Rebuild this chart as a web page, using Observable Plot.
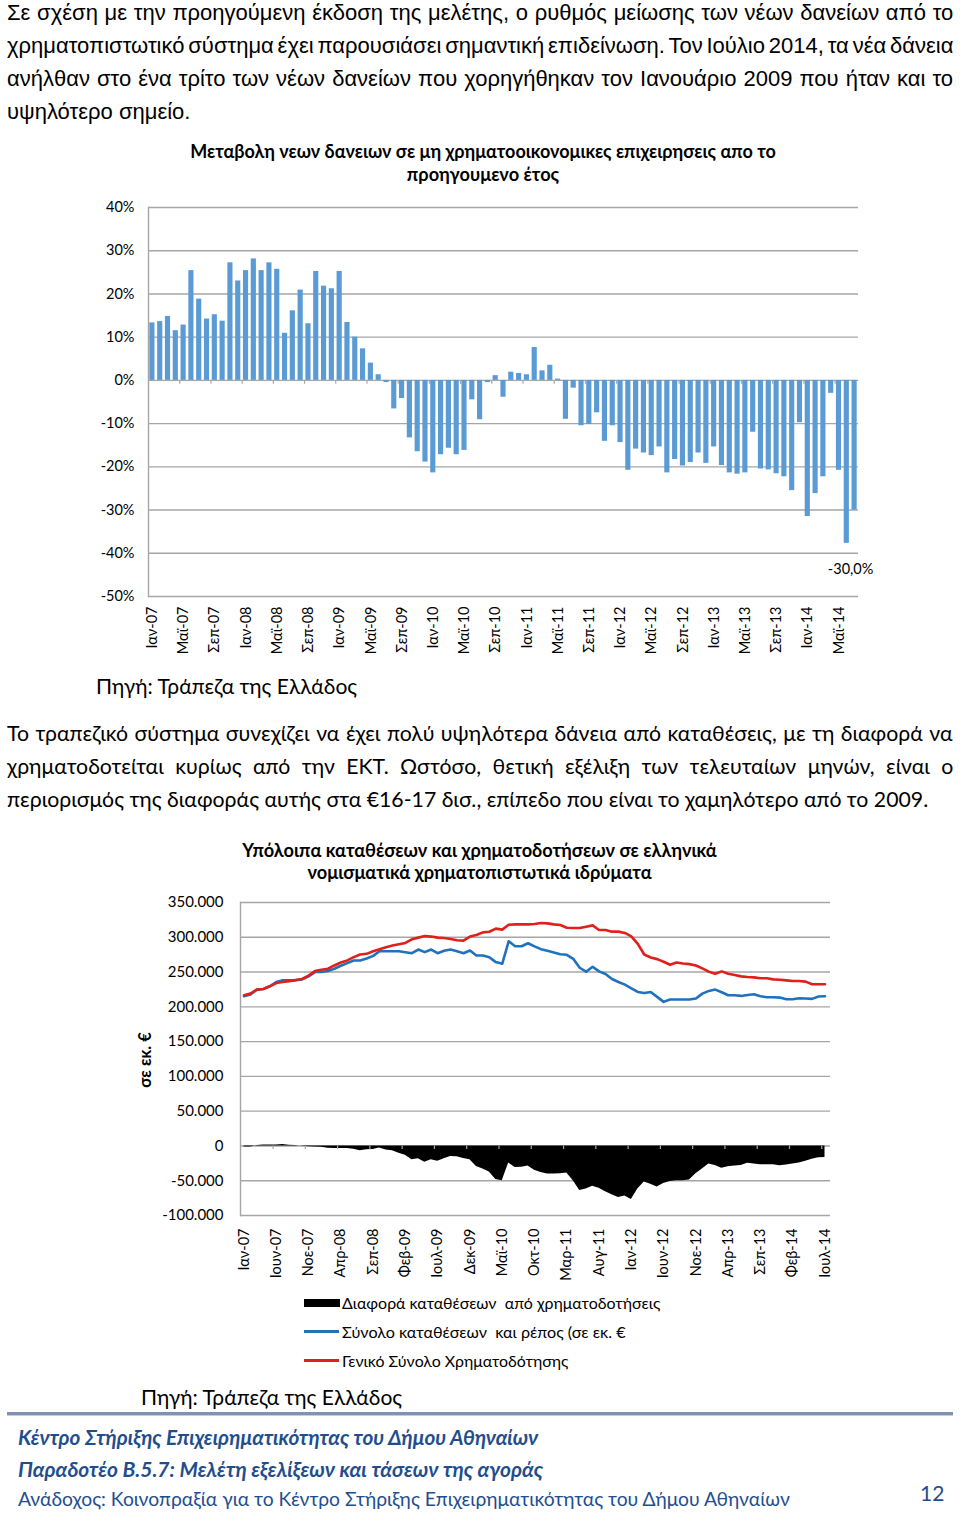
<!DOCTYPE html>
<html>
<head>
<meta charset="utf-8">
<script src="https://cdn.jsdelivr.net/npm/d3@7"></script>
<script src="https://cdn.jsdelivr.net/npm/@observablehq/plot@0.6"></script>
<style>
  html, body { margin: 0; padding: 0; background: #fff; }
  body { position: relative; width: 960px; height: 1516px; overflow: hidden; color: #000;
         font-family: Lato, "Open Sans", "Noto Sans", sans-serif; }
  .abs { position: absolute; white-space: nowrap; }
  .arial { font-family: "Liberation Sans", Arial, sans-serif; }
  .para > div { white-space: nowrap; height: 33px; line-height: 33px; }
  .title { font-weight: bold; text-align: center; line-height: 23px; height: 23px; }
  .foot { color: #1f4e8f; line-height: 26px; height: 26px; }
  .leg { line-height: 20px; height: 20px; font-size: 15px; }
</style>
</head>
<body>

<div id="p1" class="abs para arial" style="left:7px; top:-4.5px; font-size:19.5px;">
  <div class="j" data-w="946"><span>Σε σχέση με την προηγούμενη έκδοση της μελέτης, ο ρυθμός μείωσης των νέων δανείων από το</span></div>
  <div class="j" data-w="946"><span>χρηματοπιστωτικό σύστημα έχει παρουσιάσει σημαντική επιδείνωση. Τον Ιούλιο 2014, τα νέα δάνεια</span></div>
  <div class="j" data-w="946"><span>ανήλθαν στο ένα τρίτο των νέων δανείων που χορηγήθηκαν τον Ιανουάριο 2009 που ήταν και το</span></div>
  <div class="ref" data-w="183"><span>υψηλότερο σημείο.</span></div>
</div>

<div class="abs title" style="left:0; width:966px; top:139.5px; font-size:17px;"><span class="fit" data-w="586">Μεταβολη νεων δανειων σε μη χρηματοοικονομικες επιχειρησεις απο το</span></div>
<div class="abs title" style="left:0; width:966px; top:162.5px; font-size:17px;"><span class="fit" data-w="152">προηγουμενο έτος</span></div>

<div id="chart1" class="abs" style="left:0; top:190px;"></div>

<div class="abs" style="left:96px; top:674px; line-height:24px; font-size:20px;"><span class="fit" data-w="261">Πηγή: Τράπεζα της Ελλάδος</span></div>

<div id="p2" class="abs para" style="left:7px; top:716.5px; font-size:20px;">
  <div class="j" data-w="946"><span>Το τραπεζικό σύστημα συνεχίζει να έχει πολύ υψηλότερα δάνεια από καταθέσεις, με τη διαφορά να</span></div>
  <div class="j" data-w="946"><span>χρηματοδοτείται κυρίως από την ΕΚΤ. Ωστόσο, θετική εξέλιξη των τελευταίων μηνών, είναι ο</span></div>
  <div class="ref" data-w="921"><span>περιορισμός της διαφοράς αυτής στα €16-17 δισ., επίπεδο που είναι το χαμηλότερο από το 2009.</span></div>
</div>

<div class="abs title" style="left:0; width:959px; top:838.5px; font-size:17px;"><span class="fit" data-w="475">Υπόλοιπα καταθέσεων και χρηματοδοτήσεων σε ελληνικά</span></div>
<div class="abs title" style="left:0; width:959px; top:860.5px; font-size:17px;"><span class="fit" data-w="344">νομισματικά χρηματοπιστωτικά ιδρύματα</span></div>

<div id="chart2" class="abs" style="left:0; top:885px;"></div>

<div class="abs" style="left:145px; top:1060px; transform:translate(-50%,-50%) rotate(-90deg); font-weight:bold; font-size:16.5px; line-height:20px;"><span>σε εκ. €</span></div>

<div class="abs" style="left:304px; top:1299px; width:36px; height:8px; background:#000;"></div>
<div class="abs leg" style="left:342px; top:1293px;"><span class="fit" data-w="318">Διαφορά καταθέσεων&nbsp; από χρηματοδοτήσεις</span></div>
<div class="abs" style="left:304px; top:1330px; width:35px; height:3px; background:#1f72bd;"></div>
<div class="abs leg" style="left:342px; top:1321.5px;"><span class="fit" data-w="283">Σύνολο καταθέσεων&nbsp; και ρέπος (σε εκ. €</span></div>
<div class="abs" style="left:304px; top:1359px; width:35px; height:3px; background:#e0201b;"></div>
<div class="abs leg" style="left:342px; top:1350.5px;"><span class="fit" data-w="226">Γενικό Σύνολο Χρηματοδότησης</span></div>

<div class="abs" style="left:141px; top:1385px; line-height:24px; font-size:20px;"><span class="fit" data-w="261">Πηγή: Τράπεζα της Ελλάδος</span></div>

<div class="abs" style="left:7px; top:1412px; width:946px; height:3px; background:#7f92b0;"></div>
<div class="abs" style="left:7px; top:1415px; width:946px; height:1px; background:#c3cddd;"></div>

<div class="abs foot" style="left:18px; top:1423.5px; font-size:19px; font-weight:bold; font-style:italic;"><span class="fit" data-w="520">Κέντρο Στήριξης Επιχειρηματικότητας του Δήμου Αθηναίων</span></div>
<div class="abs foot" style="left:18px; top:1455.5px; font-size:19px; font-weight:bold; font-style:italic;"><span class="fit" data-w="525">Παραδοτέο Β.5.7: Μελέτη εξελίξεων και τάσεων της αγοράς</span></div>
<div class="abs foot" style="left:18px; top:1486px; font-size:19px;"><span class="fit" data-w="772">Ανάδοχος: Κοινοπραξία για το Κέντρο Στήριξης Επιχειρηματικότητας του Δήμου Αθηναίων</span></div>
<div class="abs foot" style="left:920px; top:1479.5px; font-size:21px;"><span>12</span></div>

<script>
const CAL = 'Lato, "Open Sans", "Noto Sans", sans-serif';

// ---------- categories ----------
const monthNames = ["Ιαν","Φεβ","Μαρ","Απρ","Μαϊ","Ιουν","Ιουλ","Αυγ","Σεπ","Οκτ","Νοε","Δεκ"];
const yearLabels = ["07","08","09","10","11","12","13","14"];
const months = [];
for (const y of yearLabels) for (const m of monthNames) months.push(m + "-" + y);
months.length = 91; // Ιαν-07 ... Ιουλ-14

// ---------- chart 1: yearly change of new loans (%) ----------
const loanChange = [
  13.3, 13.6, 14.8, 11.5, 12.8, 25.4, 18.8, 14.2, 15.2, 13.7, 27.2, 23.0,
  25.4, 28.1, 25.4, 27.2, 25.7, 10.9, 16.1, 20.9, 13.1, 25.2, 21.8, 21.2,
  25.2, 13.4, 10.0, 7.3, 4.0, 1.3, -0.5, -6.6, -4.2, -13.3, -16.5, -18.9,
  -21.4, -17.2, -15.7, -17.2, -16.2, -4.5, -9.1, -0.5, 1.1, -3.9, 1.9, 1.6,
  1.3, 7.6, 2.2, 3.5, 0.3, -9.0, -1.8, -10.5, -10.2, -7.5, -14.1, -10.5,
  -14.4, -20.8, -15.9, -16.8, -17.4, -15.4, -21.4, -18.3, -19.8, -19.0, -16.8, -19.2,
  -15.4, -19.7, -21.4, -21.7, -21.4, -12.0, -20.5, -20.7, -21.6, -22.3, -25.5, -9.8,
  -31.5, -26.2, -22.3, -3.0, -20.8, -37.7, -30.0
];
const barTicks = [-50, -40, -30, -20, -10, 0, 10, 20, 30, 40];
const barLabels = months.filter((d, i) => i % 4 === 0);

// ---------- chart 2: deposits / financing (thousand € millions) ----------
const deposits = [
  215.2, 217.6, 224.8, 225.7, 229.5, 235.7, 238.1, 238.1, 238.1, 239.5, 243.8, 250.0,
  250.0, 251.4, 254.8, 259.0, 262.9, 266.7, 266.7, 269.5, 273.3, 280.0, 280.0, 280.0,
  280.0, 278.6, 277.1, 282.4, 278.6, 282.4, 277.1, 280.5, 282.4, 280.0, 277.1, 281.0,
  273.8, 273.8, 271.4, 264.3, 261.9, 294.3, 287.1, 287.1, 291.4, 287.0, 282.9, 280.5,
  278.1, 275.7, 274.8, 269.0, 256.2, 250.5, 257.6, 251.0, 247.1, 240.0, 235.7, 231.9,
  226.7, 221.4, 220.0, 221.4, 214.3, 207.1, 210.5, 210.5, 210.5, 210.5, 211.9, 219.0,
  222.9, 224.8, 221.0, 216.7, 216.7, 215.7, 217.1, 218.1, 215.2, 213.8, 213.8, 213.3,
  211.0, 211.0, 212.4, 211.9, 211.4, 214.8, 215.2
];
const financing = [
  216.7, 219.0, 224.8, 225.7, 229.5, 234.3, 235.7, 237.0, 238.6, 240.0, 244.8, 251.4,
  253.3, 254.8, 259.5, 263.8, 266.7, 271.4, 275.2, 276.2, 280.0, 282.9, 285.7, 288.1,
  290.0, 291.9, 297.1, 299.5, 301.9, 301.0, 299.5, 299.0, 297.6, 295.7, 295.2, 301.0,
  303.3, 307.1, 308.0, 312.4, 311.0, 318.1, 318.6, 318.6, 318.6, 319.0, 320.5, 320.0,
  318.6, 317.6, 313.8, 313.3, 313.3, 315.2, 317.1, 310.5, 310.5, 308.1, 308.1, 306.2,
  301.4, 290.5, 275.2, 271.0, 268.6, 264.8, 260.5, 263.8, 262.4, 261.4, 259.5, 255.2,
  250.5, 247.6, 251.0, 247.6, 245.7, 243.8, 242.9, 242.4, 241.0, 241.0, 239.5, 239.0,
  238.1, 237.1, 237.1, 236.2, 232.4, 232.4, 232.4
];
const gap = [
  -1.5, -1.4, 0.5, 1.5, 1.5, 1.4, 2.0, 1.1, 0.5, -0.5, -1.0, -1.4,
  -2.0, -3.4, -3.6, -3.8, -3.8, -4.7, -7.0, -5.5, -5.0, -3.0, -5.7, -7.0,
  -10.5, -13.3, -20.0, -18.5, -23.3, -20.0, -22.0, -18.5, -15.2, -15.7, -18.1, -20.0,
  -29.5, -33.3, -37.5, -48.1, -50.0, -24.5, -31.0, -30.5, -29.0, -35.0, -38.0, -40.5,
  -40.5, -40.0, -39.0, -50.0, -64.0, -62.0, -58.0, -61.0, -66.0, -70.0, -74.0, -72.0,
  -77.0, -62.0, -52.0, -55.0, -59.0, -54.0, -51.0, -50.0, -50.0, -49.0, -40.0, -33.0,
  -26.0, -28.0, -32.0, -30.0, -29.0, -28.0, -25.0, -26.0, -27.0, -27.0, -27.0, -28.5,
  -27.5, -26.0, -24.5, -22.0, -19.0, -17.0, -16.7
];
const lineTicks = [-100, -50, 0, 50, 100, 150, 200, 250, 300, 350];
const lineLabelIdx = d3.range(0, 91, 5);

// ---------- build chart 1 ----------
const barRows = months.map((m, i) => ({month: m, value: loanChange[i]}));
const grid = "#a6a6a6";
const chart1 = Plot.plot({
  width: 960, height: 480,
  marginTop: 17, marginRight: 102, marginBottom: 74, marginLeft: 148,
  style: {fontFamily: CAL, fontSize: "14px", color: "#000", background: "none", overflow: "visible"},
  x: {type: "band", domain: months, paddingInner: 0.34, paddingOuter: 0.17, label: null},
  y: {domain: [-50, 40], label: null},
  marks: [
    Plot.ruleY(barTicks, {stroke: grid, strokeWidth: 1.4}),
    Plot.frame({anchor: "left", stroke: grid, strokeWidth: 1.4}),
    Plot.ruleX(barLabels.slice(1), {x: d => d, y1: 0, y2: -0.9, dx: -3.9, stroke: grid, strokeWidth: 1.2}),
    Plot.barY(barRows, {x: "month", y: "value", fill: "#5b9bd5"}),
    Plot.text([barRows[barRows.length - 1]], {
      x: "month", y: "value",
      text: d => d.value.toFixed(1).replace(".", ",") + "%",
      dy: 59, dx: -4, fontSize: 14.5, fill: "#000"
    }),
    Plot.axisY({ticks: barTicks, tickFormat: d => d + "%", tickSize: 0, tickPadding: 14, fontSize: 14.5, label: null}),
    Plot.axisX({ticks: barLabels, tickSize: 0, tickPadding: 10, tickRotate: -90, fontSize: 14.5, label: null})
  ]
});
document.getElementById("chart1").appendChild(chart1);

// ---------- build chart 2 ----------
const lineRows = months.map((m, i) => ({i, deposits: deposits[i], financing: financing[i], gap: gap[i]}));
const fmtK = d => d === 0 ? "0" : (d < 0 ? "-" : "") + Math.abs(d) + ".000";
const chart2 = Plot.plot({
  width: 960, height: 400,
  marginTop: 17, marginRight: 130, marginBottom: 70, marginLeft: 240,
  style: {fontFamily: CAL, fontSize: "15px", color: "#000", background: "none", overflow: "visible"},
  x: {domain: [0, 90], insetLeft: 3.5, insetRight: 5.5, label: null},
  y: {domain: [-100, 350], label: null},
  marks: [
    Plot.ruleY(lineTicks, {stroke: grid, strokeWidth: 1.4}),
    Plot.frame({anchor: "left", stroke: grid, strokeWidth: 1.4}),
    Plot.areaY(lineRows, {x: "i", y: "gap", fill: "#000"}),
    Plot.ruleX(lineLabelIdx.slice(1), {x: d => d - 0.5, y1: 0, y2: -5, stroke: grid, strokeWidth: 1.2}),
    Plot.lineY(lineRows, {x: "i", y: "deposits", stroke: "#1f72bd", strokeWidth: 2.6}),
    Plot.lineY(lineRows, {x: "i", y: "financing", stroke: "#e0201b", strokeWidth: 2.6}),
    Plot.axisY({ticks: lineTicks, tickFormat: fmtK, tickSize: 0, tickPadding: 17, fontSize: 15, label: null}),
    Plot.axisX({ticks: lineLabelIdx, tickFormat: i => months[i], tickSize: 0, tickPadding: 13, tickRotate: -90, fontSize: 14.5, label: null})
  ]
});
document.getElementById("chart2").appendChild(chart2);

// ---------- text fitting ----------
function fitSpan(span) {
  const target = +span.dataset.w;
  const el = span.parentElement;
  const fs = parseFloat(getComputedStyle(el).fontSize);
  const w = span.offsetWidth;
  if (w > 0) el.style.fontSize = (fs * target / w) + "px";
}
function fitParagraph(p) {
  const ref = p.querySelector(".ref");
  const span = ref.firstElementChild;
  const fs = parseFloat(getComputedStyle(p).fontSize);
  const w = span.offsetWidth;
  if (w > 0) p.style.fontSize = (fs * (+ref.dataset.w) / w) + "px";
  p.querySelectorAll(".j").forEach(line => {
    const s = line.firstElementChild;
    s.style.wordSpacing = "0px";
    const nw = s.offsetWidth;
    const n = (s.textContent.match(/ /g) || []).length;
    if (n) s.style.wordSpacing = ((+line.dataset.w - nw) / n) + "px";
  });
}
function layout() {
  document.querySelectorAll("span.fit").forEach(fitSpan);
  fitParagraph(document.getElementById("p1"));
  fitParagraph(document.getElementById("p2"));
}
layout();
if (document.fonts && document.fonts.ready) document.fonts.ready.then(layout);
</script>
</body>
</html>
